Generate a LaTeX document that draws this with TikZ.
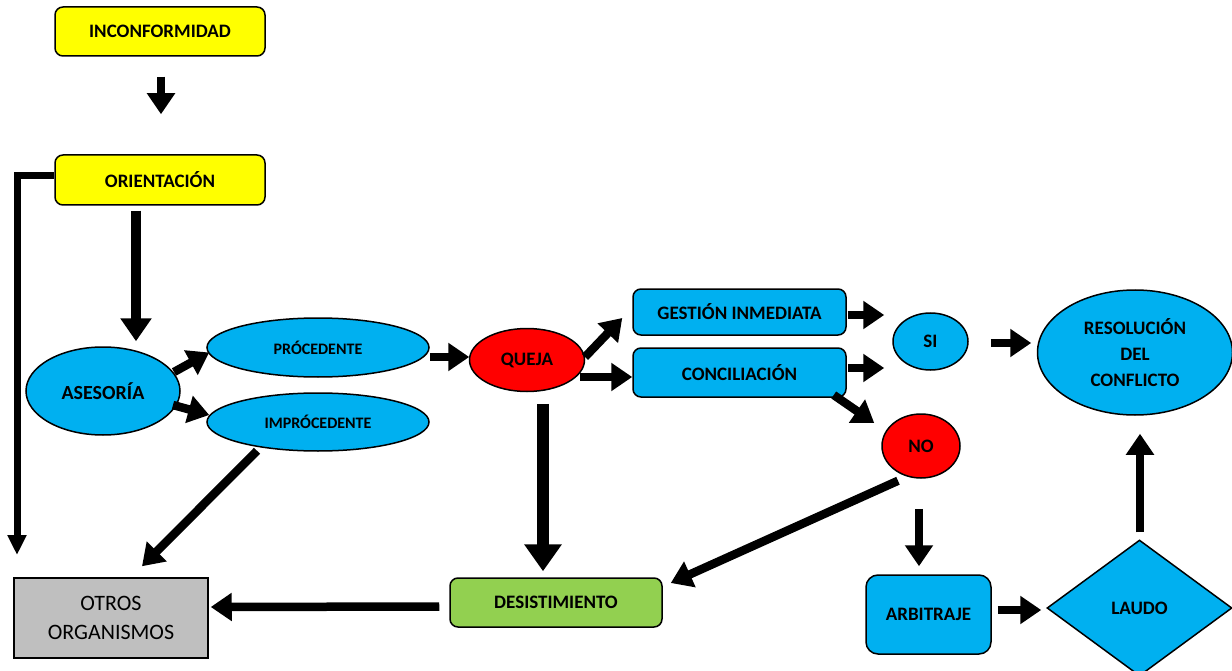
\documentclass[tikz,border=0pt]{standalone}
\usepackage{fontspec}
\setmainfont{Carlito}
\usetikzlibrary{arrows.meta,shapes.geometric,calc}
\definecolor{cyanb}{HTML}{00B0F0}
\definecolor{yel}{HTML}{FFFF00}
\definecolor{redq}{HTML}{FF0000}
\definecolor{grn}{HTML}{92D050}
\definecolor{gry}{HTML}{BFBFBF}
\begin{document}
\begin{tikzpicture}[x=1pt,y=-1pt,
  txt/.style={font=\bfseries\fontsize{19}{26}\selectfont, align=center, text=black},
  box/.style={txt, draw=black, line width=1.5pt, rounded corners=8pt, inner sep=0pt},
  ell/.style={txt, ellipse, draw=black, line width=1.5pt, inner sep=0pt},
  arr/.style={line width=8.5pt, -{Triangle[width=27pt,length=21pt]}},
  bigarr/.style={line width=12pt, -{Triangle[width=36pt,length=27pt]}},
  thinarr/.style={line width=7pt, line join=miter, -{Triangle[width=18pt,length=20pt]}},
]
\useasboundingbox (0,0) rectangle (1232,671);
\clip (0,0) rectangle (1232,671);

% nodes
\node[box, fill=yel, minimum width=210pt, minimum height=49pt] (inc) at (160,31.5) {INCONFORMIDAD};
\node[box, fill=yel, minimum width=210pt, minimum height=50pt] (ori) at (160,180) {ORIENTACIÓN};
\node[ell, fill=cyanb, minimum width=154pt, minimum height=88pt, font=\bfseries\fontsize{20}{26}\selectfont] (ase) at (103,391) {ASESORÍA};
\node[ell, fill=cyanb, minimum width=222pt, minimum height=59pt, font=\bfseries\fontsize{16}{20}\selectfont] (pro) at (318,347.5) {PRÓCEDENTE};
\node[ell, fill=cyanb, minimum width=222pt, minimum height=58pt, font=\bfseries\fontsize{16}{20}\selectfont] (imp) at (318,422) {IMPRÓCEDENTE};
\node[draw=black, line width=1.5pt, fill=gry, minimum width=194pt, minimum height=80pt, inner sep=0pt, align=center, font=\fontsize{22}{29}\selectfont, text=black] (otros) at (111,618) {OTROS\\ORGANISMOS};
\node[ell, fill=redq, minimum width=115pt, minimum height=63pt] (queja) at (527,360) {QUEJA};
\node[box, fill=cyanb, minimum width=213pt, minimum height=46pt] (ges) at (739.5,312) {GESTIÓN INMEDIATA};
\node[box, fill=cyanb, minimum width=213pt, minimum height=49pt] (con) at (739.5,372.5) {CONCILIACIÓN};
\node[box, fill=grn, minimum width=212pt, minimum height=49pt] (des) at (556,602.5) {DESISTIMIENTO};
\node[ell, fill=cyanb, minimum width=75pt, minimum height=57pt] (si) at (930.5,341.5) {SI};
\node[ell, fill=cyanb, minimum width=195pt, minimum height=125pt] (res) at (1135,352.5) {RESOLUCIÓN\\DEL\\CONFLICTO};
\node[ell, fill=redq, minimum width=78pt, minimum height=64pt] (no) at (921,446) {NO};
\node[box, fill=cyanb, rounded corners=12pt, minimum width=125pt, minimum height=79pt] (arb) at (928.5,614.5) {ARBITRAJE};
\node[txt, diamond, aspect=1.36, draw=black, line width=1.5pt, fill=cyanb, inner sep=0pt, minimum width=185pt, minimum height=136pt] (laudo) at (1139.5,608) {LAUDO};

\coordinate (lft) at (17,555);

% connectors
\draw[arr] ($(inc.south)+(1,20)$) -- ($(ori.north)+(1,-40)$);
\draw[thinarr] ($(ori.west)+(0,-4)$) -| (lft);
\draw[line width=10pt, -{Triangle[width=30pt,length=23pt]}] ($(ori.south)+(-24,5)$) -- ($(ase.north)+(33,-5)$);
\draw[arr] ($(ase.center)+(71,-19)$) -- ($(pro.west)+(3,5)$);
\draw[arr] ($(ase.center)+(70,14)$) -- ($(imp.west)+(3,-7)$);
\draw[arr] ($(imp.south)+(-61,-1)$) -- ($(otros.north)+(31,-11)$);
\draw[arr] ($(des.west)+(-10,4)$) -- ($(otros.east)+(2,-11)$);
\draw[arr] ($(pro.east)+(0,9.5)$) -- ($(queja.west)+(0.5,-3)$);
\draw[arr] ($(queja.center)+(58,-3)$) -- ($(ges.west)+(-10,6)$);
\draw[arr] ($(queja.center)+(53,17)$) -- ($(con.west)+(0,4.5)$);
\draw[bigarr] ($(queja.south)+(16,11.5)$) -- ($(des.north)+(-13,-6)$);
\draw[arr] ($(ges.east)+(1,3)$) -- ($(si.west)+(-8,-26.5)$);
\draw[arr] ($(con.east)+(1,-4.5)$) -- ($(si.west)+(-8,26.5)$);
\draw[arr] ($(si.east)+(22,1.5)$) -- ($(res.west)+(-5.5,-9.5)$);
\draw[arr] ($(con.east)+(-13,22.5)$) -- ($(no.west)+(-7,-23)$);
\draw[arr] ($(no.south)+(-23,2)$) -- ($(des.east)+(8,-19.5)$);
\draw[arr] ($(no.south)+(-2,30)$) -- ($(arb.north)+(-9.5,-8)$);
\draw[arr] ($(arb.east)+(6,-4.5)$) -- ($(laudo.west)+(-5,2)$);
\draw[arr] ($(laudo.north)+(0.5,-7)$) -- ($(res.south)+(5,18)$);
\end{tikzpicture}
\end{document}
